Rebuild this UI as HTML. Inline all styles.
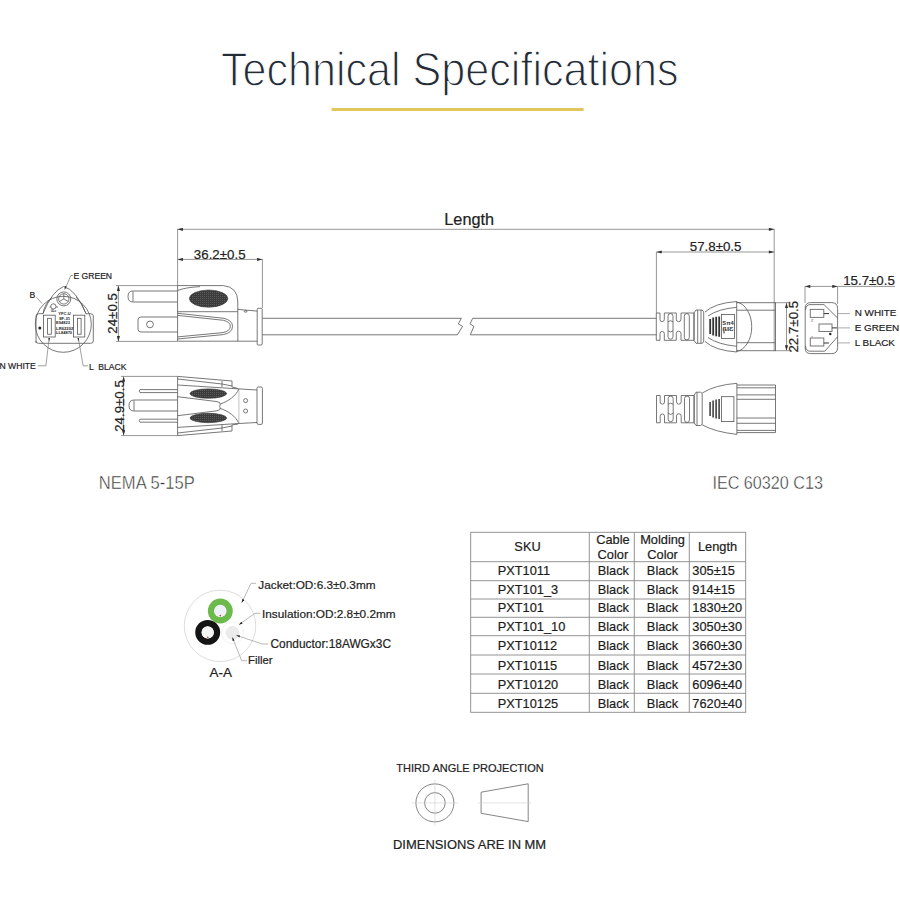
<!DOCTYPE html>
<html><head><meta charset="utf-8">
<style>
html,body{margin:0;padding:0;background:#fff;}
body{width:900px;height:900px;overflow:hidden;position:relative;font-family:"Liberation Sans",sans-serif;}
svg{position:absolute;left:0;top:0;}
text{font-family:"Liberation Sans",sans-serif;}
.t{stroke:#222;stroke-width:0.2;}
</style></head>
<body>
<svg width="900" height="900" viewBox="0 0 900 900">
<defs>
<marker id="ar" viewBox="0 0 10 6" refX="10" refY="3" markerWidth="8" markerHeight="3.2" orient="auto-start-reverse" markerUnits="userSpaceOnUse">
<path d="M0,0 L10,3 L0,6 z" fill="#333"/>
</marker>
<marker id="ar2" viewBox="0 0 10 6" refX="10" refY="3" markerWidth="4.5" markerHeight="2.2" orient="auto" markerUnits="userSpaceOnUse">
<path d="M0,0 L10,3 L0,6 z" fill="#222"/>
</marker>
<pattern id="dots" width="2" height="2" patternUnits="userSpaceOnUse">
<rect width="2" height="2" fill="#3c3c3c"/><rect width="1" height="1" fill="#5a5a5a"/>
</pattern>
</defs>
<rect width="900" height="900" fill="#fff"/>

<!-- Title -->
<text x="221" y="86.4" font-size="48.6" fill="#222b36" textLength="457.5" lengthAdjust="spacingAndGlyphs" stroke="#fff" stroke-width="1.3">Technical Specifications</text>
<rect x="331.6" y="108" width="252" height="3" fill="#e2c55c"/>

<!-- ===== Dimension lines ===== -->
<g stroke="#8a8a8a" stroke-width="0.9" fill="none">
  <!-- Length -->
  <line x1="177.6" y1="229.3" x2="774.2" y2="229.3" marker-start="url(#ar)" marker-end="url(#ar)"/>
  <line x1="177.6" y1="228.8" x2="177.6" y2="285.6"/>
  <line x1="774.2" y1="228.8" x2="774.2" y2="351"/>
  <!-- 36.2 -->
  <line x1="177.6" y1="259.4" x2="262.4" y2="259.4" marker-start="url(#ar)" marker-end="url(#ar)"/>
  <line x1="262.4" y1="259" x2="262.4" y2="308"/>
  <!-- 57.8 -->
  <line x1="656.4" y1="252" x2="774.2" y2="252" marker-start="url(#ar)" marker-end="url(#ar)"/>
  <line x1="656.4" y1="252" x2="656.4" y2="313"/>
  <!-- 24 (left top) -->
  <line x1="118.4" y1="285.6" x2="118.4" y2="341.4" marker-start="url(#ar)" marker-end="url(#ar)"/>
  <line x1="116" y1="285.6" x2="177.6" y2="285.6"/>
  <line x1="116" y1="341.4" x2="177.6" y2="341.4"/>
  <!-- 24.9 (left bottom) -->
  <line x1="123.6" y1="376.4" x2="123.6" y2="435.6" marker-start="url(#ar)" marker-end="url(#ar)"/>
  <line x1="121" y1="376.4" x2="177.6" y2="376.4"/>
  <line x1="121" y1="435.6" x2="177.6" y2="435.6"/>
  <!-- 22.7 -->
  <line x1="786.5" y1="302.7" x2="786.5" y2="350.7" marker-start="url(#ar)" marker-end="url(#ar)"/>
  <line x1="775" y1="302.7" x2="789" y2="302.7"/>
  <line x1="775" y1="350.7" x2="789" y2="350.7"/>
  <!-- 15.7 -->
  <line x1="805" y1="286.4" x2="837.6" y2="286.4" marker-start="url(#ar)" marker-end="url(#ar)"/>
  <line x1="837.6" y1="286.4" x2="895" y2="286.4"/>
  <line x1="805" y1="286" x2="805" y2="303"/>
  <line x1="837.6" y1="286" x2="837.6" y2="304"/>
</g>
<g fill="#222" font-size="13.3" class="t">
  <text x="469.2" y="224.6" font-size="16.3" text-anchor="middle">Length</text>
  <text x="219.7" y="258.9" text-anchor="middle">36.2±0.5</text>
  <text x="715.6" y="251.2" text-anchor="middle">57.8±0.5</text>
  <text x="869" y="285.4" text-anchor="middle">15.7±0.5</text>
  <text transform="translate(117.4,313.4) rotate(-90)" text-anchor="middle">24±0.5</text>
  <text transform="translate(123.6,406) rotate(-90)" text-anchor="middle">24.9±0.5</text>
  <text transform="translate(798,326.7) rotate(-90)" text-anchor="middle">22.7±0.5</text>
</g>

<!-- ===== Left plug face ===== -->
<g stroke="#555" stroke-width="0.8" fill="none">
  <circle cx="63.3" cy="324.3" r="28"/>
  <path d="M36,343 L36,316 Q36,313.7 38.5,313.7 L43,313.7 Q52,291 63.6,286.5 Q76,289.5 86,313.7 L90.5,313.7 Q93.3,313.7 93.3,316 L93.3,341 Q93.3,343.3 90.5,343.3 L38.5,343.3 Q36,343.3 36,341"/>
  <path d="M43,313.7 Q44,305 52,297 M86,313.7 Q83,304 76,297"/>
  <circle cx="63.8" cy="298.9" r="7"/>
  <circle cx="63.8" cy="298.9" r="5.2"/>
  <path d="M63.8,298.9 L63.8,293.8 M63.8,298.9 L59.4,301.5 M63.8,298.9 L68.2,301.5"/>
  <rect x="43.5" y="315.2" width="11.7" height="21.8"/>
  <rect x="47.6" y="318.3" width="3.7" height="15.9"/>
  <rect x="73.4" y="315.2" width="11.4" height="21.8"/>
  <rect x="77.4" y="318.3" width="3.7" height="15.9"/>
  <circle cx="53.4" cy="306.4" r="2.6"/>
  <path d="M49.5,307 L51,307 M56,307 L58,307"/>
</g>
<g fill="#222" font-size="4" font-weight="bold">
  <text x="58.3" y="315.1" textLength="12.5" lengthAdjust="spacingAndGlyphs">YFC-U</text>
  <text x="59.2" y="319.6" textLength="11" lengthAdjust="spacingAndGlyphs">8F-31</text>
  <text x="56.1" y="324.4" textLength="13.8" lengthAdjust="spacingAndGlyphs">E94823</text>
  <text x="56.1" y="329.6" textLength="17.3" lengthAdjust="spacingAndGlyphs">LR62202</text>
  <text x="56.1" y="334.2" textLength="16" lengthAdjust="spacingAndGlyphs">LL84870</text>
  <text x="51" y="311.5" font-size="2.6">ULu</text>
  <circle cx="39.8" cy="328" r="1.5"/>
</g>
<g stroke="#777" stroke-width="0.7" fill="none">
  <path d="M73,275.5 L70.8,275.5 L65.3,288.8"/>
  <path d="M36.5,297.3 L42,303.5"/>
  <path d="M38,365.8 L45.9,365.8 L49,339.3"/>
  <path d="M87.9,365.8 L83.2,365.8 L78.5,339.3"/>
</g>
<g fill="#222">
  <path d="M64.6,290.2 L66.4,286.5 L64.9,286.1 Z"/>
  <path d="M49.1,341.6 L48.3,338 L50,338.1 Z"/>
  <path d="M78.9,341.6 L77.4,338.3 L79,338.1 Z"/>
</g>
<g fill="#222" font-size="8.6" class="t">
  <text x="73.4" y="279.4">E GREEN</text>
  <text x="29.5" y="298.4">B</text>
  <text x="-0.5" y="368.8">N WHITE</text>
  <text x="89" y="369.5" xml:space="preserve">L  BLACK</text>
</g>

<!-- ===== Left plug side (top) ===== -->
<g stroke="#555" stroke-width="0.8" fill="none">
  <!-- ground pin -->
  <path d="M177.6,291 L133,291 Q128,291 128,296.5 Q128,302 133,302 L177.6,302"/>
  <line x1="133" y1="291.5" x2="133" y2="301.5"/>
  <!-- blade -->
  <path d="M177.6,317 L141,317 Q138,317 138,320 L138,329 Q138,332 141,332 L177.6,332"/>
  <circle cx="150" cy="324.4" r="3.4"/>
  <!-- body -->
  <path d="M177.6,285.6 L223.3,285.6 Q237.8,287 237.8,302 L237.8,341.2 L177.6,341.2 Z"/>
  <path d="M177.6,290.5 Q185,287.5 200,286.6"/>
  <line x1="177.6" y1="311.7" x2="237.8" y2="311.7"/>
  <path d="M177.6,313.3 L224,318.3 Q232.5,320.5 232.5,326.3 Q232.5,332.8 223.3,334.6 L177.6,339"/>
  <path d="M177.6,315.4 L223.5,320.3 Q230.3,322 230.3,326.3 Q230.3,331 223,332.6 L177.6,336.9"/>
  <!-- neck -->
  <path d="M237.8,309.4 L257.2,311.1 M237.8,341.2 L257.2,341.2"/>
  <rect x="244.3" y="310.6" width="2.6" height="1.6" rx="0.8"/>
  <rect x="257.2" y="308.3" width="5" height="36.7" rx="1"/>
  <!-- cable -->
  <path d="M262.4,318.3 L461.4,318.3 M262.4,334.8 L457.4,334.8"/>
  <path d="M472.7,318.3 L656.4,318.3 M470.3,334.8 L656.4,334.8"/>
  <path d="M461.4,318.3 L458.3,323.9 L462.6,326.4 L457.4,334.8"/>
  <path d="M472.7,318.3 L470,323.9 L473.9,326.4 L470.3,334.8"/>
</g>
<ellipse cx="208.6" cy="298.6" rx="19.2" ry="8.6" fill="url(#dots)" stroke="#333" stroke-width="0.6"/>

<!-- ===== Left plug side (bottom) ===== -->
<g stroke="#555" stroke-width="0.8" fill="none">
  <path d="M177.6,400 L134,400 Q129,400 129,405.5 Q129,411 134,411 L177.6,411"/>
  <line x1="134" y1="400.5" x2="134" y2="410.5"/>
  <path d="M177.6,389.6 L140,389.6 Q138.4,391 140,392.6 L177.6,392.6"/>
  <path d="M177.6,419.2 L140,419.2 Q138.4,420.7 140,422.2 L177.6,422.2"/>
  <path d="M177.6,376.4 L232,381 L232,387 L238,388.5 M177.6,435.6 L232,431 L232,425 L238,424"/>
  <path d="M177.6,379 L222,384 L232,386 M177.6,433 L222,428 L232,426"/>
  <line x1="177.6" y1="376.4" x2="177.6" y2="435.6"/>
  <line x1="222" y1="381" x2="222" y2="387"/>
  <line x1="222" y1="425" x2="222" y2="431"/>
  <path d="M177.6,385 L238.9,388.9 M177.6,427.4 L238.9,423.5"/>
  <path d="M177.6,396.7 L217,401.6 Q221,402.3 220.2,404.5 Q219.2,406.2 220.2,407.9 Q221,410.1 217,410.8 L177.6,415.7"/>
  <path d="M220.2,404 C228,401.5 236,396 238.9,388.9 M220.2,408.4 C228,410.9 236,416.4 238.9,423.5"/>
  <path d="M238.9,388.9 L257,390 M238.9,423.5 L257,422.5"/>
  <line x1="238.9" y1="388.9" x2="238.9" y2="423.5" stroke="#999" stroke-width="0.6"/>
  <rect x="257" y="387" width="5.4" height="37.4" rx="1.3"/>
  <circle cx="245.6" cy="400.6" r="2"/>
  <circle cx="245.6" cy="411" r="2"/>
</g>
<ellipse cx="208.3" cy="393.6" rx="18.3" ry="4.7" fill="url(#dots)" stroke="#333" stroke-width="0.6"/>
<ellipse cx="208.3" cy="418" rx="18.3" ry="4.7" fill="url(#dots)" stroke="#333" stroke-width="0.6"/>

<!-- ===== Right connector side (top) ===== -->
<g stroke="#555" stroke-width="0.8" fill="none">
  <!-- strain relief outline -->
  <g id="sr">
  <path d="M656.3,313 L660,313 L660,319.5 A2.15,2.15 0 0 0 664.3,319.5 L664.3,313 L676.3,313 L676.3,319.3 A2.35,2.35 0 0 0 681,319.3 L681,313 L694,313 L694,340.3 L681,340.3 L681,333.6 A2.35,2.35 0 0 0 676.3,333.6 L676.3,340.3 L664.3,340.3 L664.3,333.6 A2.15,2.15 0 0 0 660,333.6 L660,340.3 L656.3,340.3 Z"/>
  <rect x="668" y="313.6" width="5" height="25.6" rx="2.5"/>
  <path d="M668,321.8 Q670.5,319.6 673,321.8 M668,330.8 Q670.5,333 673,330.8"/>
  <rect x="684.3" y="313.6" width="5" height="26.3" rx="2.5"/>
  </g>
  <!-- collar -->
  <path d="M694,313 L696,310 L702,310 L703.7,311.8 L703.7,342 L702,343.3 L696,343.3 L694,340.3 Z"/>
  <line x1="697.7" y1="310" x2="697.7" y2="343.3"/>
  <line x1="701" y1="310" x2="701" y2="343.3"/>
  <!-- head -->
  <path d="M705,312 Q715,303 736.7,301.5 L736.7,352 Q715,350.5 705,341.5"/>
  <path d="M708,316 Q718,309 736.7,307.3 M708,337.5 Q718,344.5 736.7,346.3"/>
  <rect x="721.5" y="314.5" width="13" height="23.9"/>
  <!-- arc -->
  <path d="M736.7,302 A17.5,25 0 0 1 736.7,351.5"/>
  <!-- body -->
  <path d="M736.7,302.7 L775.5,302.7 L775.5,350.7 L736.7,350.7"/>
  <line x1="736.7" y1="310.2" x2="775" y2="310.2"/>
  <line x1="736.7" y1="342.7" x2="775" y2="342.7"/>
</g>
<g fill="#333">
  <rect x="709.3" y="319" width="1.8" height="15"/>
  <rect x="712.3" y="317.5" width="1.8" height="18"/>
  <rect x="715.3" y="316.8" width="1.8" height="19.5"/>
  <rect x="718.3" y="316.5" width="1.8" height="20.3"/>
  <text x="722.3" y="325" font-size="5" font-weight="bold" textLength="11.5" lengthAdjust="spacingAndGlyphs">Sπ4</text>
  <text x="722.3" y="330.5" font-size="5" font-weight="bold" textLength="11.5" lengthAdjust="spacingAndGlyphs">ßIƐ</text>
  <rect x="723.5" y="331" width="1" height="2.5"/>
</g>

<!-- ===== Right connector side (bottom) ===== -->
<g stroke="#555" stroke-width="0.8" fill="none">
  <use href="#sr" transform="translate(0.2,82.5)"/>
  <path d="M694,395.5 L696,392.2 L700.5,392.2 L702.2,393.5 L702.2,424.3 L700.5,425.5 L696,425.5 L694,422.5 Z"/>
  <line x1="697" y1="392.2" x2="697" y2="425.5"/>
  <path d="M702.2,393 Q715,385 736.9,383.3 L736.9,434.4 Q715,432 702.2,424.8"/>
  <path d="M736.9,385 L775.5,385 L775.5,432.6 L736.9,432.6"/>
  <line x1="736.9" y1="387.8" x2="775.5" y2="387.8"/>
  <line x1="736.9" y1="394.9" x2="775.5" y2="394.9"/>
  <line x1="736.9" y1="399.3" x2="775.5" y2="399.3"/>
  <line x1="736.9" y1="418" x2="775.5" y2="418"/>
  <line x1="736.9" y1="423.3" x2="775.5" y2="423.3"/>
  <line x1="736.9" y1="430.4" x2="775.5" y2="430.4"/>
  <rect x="721.4" y="396.7" width="12.5" height="24.9"/>
</g>
<g fill="#444">
  <rect x="709.3" y="402" width="1.6" height="14"/>
  <rect x="712.3" y="400.5" width="1.6" height="17"/>
  <rect x="715.3" y="399.5" width="1.6" height="19"/>
  <rect x="718.3" y="399" width="1.6" height="20"/>
</g>

<!-- ===== IEC face ===== -->
<g stroke="#555" stroke-width="0.8" fill="none">
  <path d="M810.7,302.6 L831.6,302.6 Q837.6,302.6 837.6,308.6 L837.6,347.6 Q837.6,353.6 831.6,353.6 L810.7,353.6 Q805.2,353.6 805.2,348.1 L805.2,308.1 Q805.2,302.6 810.7,302.6 Z"/>
  <path d="M805.5,310 Q806,304.6 810,304.6 L824,304.6 L837.6,318 M837.6,336.7 L824.8,351.2 L810,351.2 Q806,351.2 805.5,346"/>
</g>
<g stroke="#777" stroke-width="1" fill="none">
  <rect x="810.3" y="309.4" width="13.5" height="8"/>
  <rect x="819" y="324" width="13" height="7.5"/>
  <rect x="810.3" y="338" width="13.5" height="8"/>
</g>
<g stroke="#333" stroke-width="1" fill="none">
  <path d="M823.8,313.6 L829,313.6 M832,327.9 L836.9,327.9 M823.8,343 L829,343"/>
</g>
<circle cx="830.3" cy="334" r="1.2" fill="#222"/>
<path d="M811.3,319.5 L813,319.5 L811.3,321.3 L813,321.3 M811.3,336.5 L813,336.5" stroke="#777" stroke-width="0.5" fill="none"/>
<g stroke="#888" stroke-width="0.7">
  <path d="M837.6,313.6 L850,313.6 M837.6,327.9 L850,327.9 M837.6,342.9 L850,342.9"/>
</g>
<g fill="#222" font-size="9.9" class="t">
  <text x="854.7" y="315.8">N WHITE</text>
  <text x="854.7" y="331.1">E GREEN</text>
  <text x="854.7" y="346.1">L BLACK</text>
</g>

<!-- Labels -->
<text x="98.8" y="489" font-size="18.5" fill="#2e2e2e" textLength="95.9" lengthAdjust="spacingAndGlyphs" stroke="#fff" stroke-width="0.45">NEMA 5-15P</text>
<text x="712.4" y="489" font-size="18.6" fill="#2e2e2e" textLength="110.6" lengthAdjust="spacingAndGlyphs" stroke="#fff" stroke-width="0.45">IEC 60320 C13</text>

<!-- ===== Cross-section ===== -->
<circle cx="220" cy="625.9" r="35.7" fill="none" stroke="#ddd" stroke-width="1"/>
<circle cx="232.6" cy="632.7" r="11" fill="none" stroke="#eee" stroke-width="0.8"/>
<circle cx="220.3" cy="611" r="9.3" fill="none" stroke="#6cb94c" stroke-width="6.3"/>
<circle cx="220.3" cy="611" r="6" fill="#eef2f8"/>
<circle cx="207.7" cy="632.4" r="9.3" fill="none" stroke="#141414" stroke-width="6.3"/>
<circle cx="207.7" cy="632.4" r="6" fill="#f4f4f4"/>
<circle cx="232.6" cy="632.7" r="6.3" fill="#ececec" stroke="#ddd" stroke-width="0.6"/>
<circle cx="220.3" cy="615.6" r="0.9" fill="#a86040"/>
<circle cx="207.7" cy="637.3" r="0.9" fill="#a86040"/>
<g stroke="#999" stroke-width="0.7" fill="none">
  <path d="M256,583.3 L251,583.3 L241.7,602.7" marker-end="url(#ar2)"/>
  <path d="M260.3,613.3 L255,613.3 L239,624.7" marker-end="url(#ar2)"/>
  <path d="M268.3,644 L262.3,644 L236.3,635.3" marker-end="url(#ar2)"/>
  <path d="M247,660.7 L241.7,660.7 L232.3,637.3" marker-end="url(#ar2)"/>
</g>
<g fill="#222" font-size="11.8" class="t">
  <text x="258.3" y="589.2">Jacket:OD:6.3±0.3mm</text>
  <text x="262" y="617.8">Insulation:OD:2.8±0.2mm</text>
  <text x="270.5" y="648.3" font-size="11.9">Conductor:18AWGx3C</text>
  <text x="248" y="663.6" font-size="11.3">Filler</text>
  <text x="220.8" y="676.7" font-size="13.5" text-anchor="middle">A-A</text>
</g>

<!-- ===== Table ===== -->
<g stroke="#888" stroke-width="0.9" fill="none">
  <rect x="470.7" y="532.3" width="275" height="180"/>
  <line x1="589.3" y1="532.3" x2="589.3" y2="712.3"/>
  <line x1="634.3" y1="532.3" x2="634.3" y2="712.3"/>
  <line x1="689.3" y1="532.3" x2="689.3" y2="712.3"/>
  <line x1="470.7" y1="561.7" x2="745.7" y2="561.7"/>
  <line x1="470.7" y1="580.7" x2="745.7" y2="580.7"/>
  <line x1="470.7" y1="599" x2="745.7" y2="599"/>
  <line x1="470.7" y1="617.3" x2="745.7" y2="617.3"/>
  <line x1="470.7" y1="635.7" x2="745.7" y2="635.7"/>
  <line x1="470.7" y1="655" x2="745.7" y2="655"/>
  <line x1="470.7" y1="674" x2="745.7" y2="674"/>
  <line x1="470.7" y1="693.3" x2="745.7" y2="693.3"/>
</g>
<g fill="#1a1a1a" font-size="12.8" class="t">
  <text x="527.5" y="551.2" text-anchor="middle">SKU</text>
  <text x="612.9" y="544.1" text-anchor="middle">Cable</text>
  <text x="612.9" y="559.2" text-anchor="middle">Color</text>
  <text x="662.6" y="544.1" text-anchor="middle">Molding</text>
  <text x="662.6" y="559.2" text-anchor="middle">Color</text>
  <text x="717.5" y="551.2" text-anchor="middle">Length</text>
</g>
<g fill="#1a1a1a" font-size="12.8" class="t">
  <text x="497.7" y="575.2">PXT1011</text><text x="613.3" y="575.2" text-anchor="middle">Black</text><text x="662.5" y="575.2" text-anchor="middle">Black</text><text x="692.3" y="575.2">305±15</text>
  <text x="497.7" y="593.9">PXT101_3</text><text x="613.3" y="593.9" text-anchor="middle">Black</text><text x="662.5" y="593.9" text-anchor="middle">Black</text><text x="692.3" y="593.9">914±15</text>
  <text x="497.7" y="612.4">PXT101</text><text x="613.3" y="612.4" text-anchor="middle">Black</text><text x="662.5" y="612.4" text-anchor="middle">Black</text><text x="692.3" y="612.4">1830±20</text>
  <text x="497.7" y="631.2">PXT101_10</text><text x="613.3" y="631.2" text-anchor="middle">Black</text><text x="662.5" y="631.2" text-anchor="middle">Black</text><text x="692.3" y="631.2">3050±30</text>
  <text x="497.7" y="650.2">PXT10112</text><text x="613.3" y="650.2" text-anchor="middle">Black</text><text x="662.5" y="650.2" text-anchor="middle">Black</text><text x="692.3" y="650.2">3660±30</text>
  <text x="497.7" y="669.5">PXT10115</text><text x="613.3" y="669.5" text-anchor="middle">Black</text><text x="662.5" y="669.5" text-anchor="middle">Black</text><text x="692.3" y="669.5">4572±30</text>
  <text x="497.7" y="688.8">PXT10120</text><text x="613.3" y="688.8" text-anchor="middle">Black</text><text x="662.5" y="688.8" text-anchor="middle">Black</text><text x="692.3" y="688.8">6096±40</text>
  <text x="497.7" y="707.8">PXT10125</text><text x="613.3" y="707.8" text-anchor="middle">Black</text><text x="662.5" y="707.8" text-anchor="middle">Black</text><text x="692.3" y="707.8">7620±40</text>
</g>

<!-- ===== Projection symbol ===== -->
<text x="470" y="771.8" font-size="11" fill="#222" text-anchor="middle" class="t">THIRD ANGLE PROJECTION</text>
<g stroke="#666" stroke-width="0.8" fill="none">
  <circle cx="434.9" cy="802.9" r="19"/>
  <circle cx="434.9" cy="802.9" r="10.3"/>
  <path d="M481.1,792.2 L528.2,783.8 L528.2,821.6 L481.1,813.3 Z"/>
</g>
<g stroke="#ccc" stroke-width="0.6">
  <path d="M412,802.9 L458,802.9 M434.9,780 L434.9,826 M478,802.9 L531,802.9"/>
</g>
<text x="469.6" y="849.3" font-size="12.95" fill="#222" text-anchor="middle" class="t">DIMENSIONS ARE IN MM</text>
</svg>
</body></html>
